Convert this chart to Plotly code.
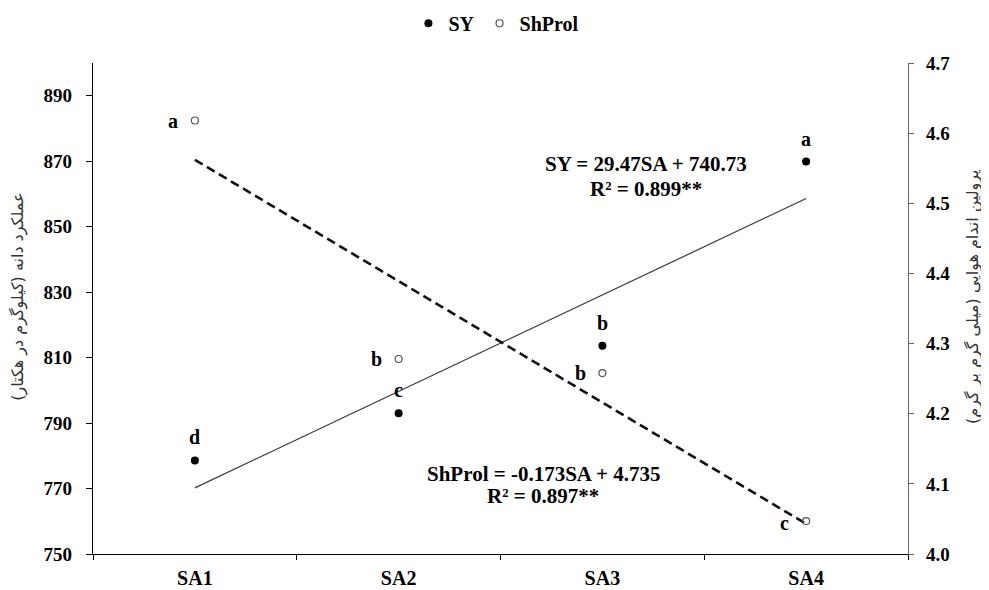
import plotly.graph_objects as go

categories = ["SA1", "SA2", "SA3", "SA4"]
sa_index = [1, 2, 3, 4]
sy_values = [778.6, 793.0, 813.6, 869.9]
shprol_values = [4.618, 4.278, 4.258, 4.047]
sy_letters = ["d", "c", "b", "a"]
shprol_letters = ["a", "b", "b", "c"]
sy_fit = {"slope": 29.47, "intercept": 740.73, "r2": "0.899**"}
sh_fit = {"slope": -0.173, "intercept": 4.735, "r2": "0.897**"}
y1_ticks = [750, 770, 790, 810, 830, 850, 870, 890]
y2_ticks = [4.0, 4.1, 4.2, 4.3, 4.4, 4.5, 4.6, 4.7]

SERIF = "Liberation Serif"
fig = go.Figure()

sy_trend = [sy_fit["slope"] * i + sy_fit["intercept"] for i in sa_index]
sh_trend = [sh_fit["slope"] * i + sh_fit["intercept"] for i in sa_index]

fig.add_trace(go.Scatter(x=categories, y=sy_trend, mode="lines",
                         line=dict(color="#3a3a3a", width=1.2),
                         showlegend=False, hoverinfo="skip"))
fig.add_trace(go.Scatter(x=categories, y=sh_trend, mode="lines", yaxis="y2",
                         line=dict(color="#111111", width=2.6, dash="9px,5px"),
                         showlegend=False, hoverinfo="skip"))
fig.add_trace(go.Scatter(x=categories, y=sy_values, mode="markers", name="<b>SY</b>",
                         marker=dict(symbol="circle", size=8, color="black")))
fig.add_trace(go.Scatter(x=categories, y=shprol_values, mode="markers", name="<b>ShProl</b>",
                         yaxis="y2",
                         marker=dict(symbol="circle-open", size=7, color="#555555",
                                     line=dict(width=1.2, color="#555555"))))

letter_font = dict(family=SERIF, size=20, color="black", weight="bold")
annotations = []
for c, v, t in zip(categories, sy_values, sy_letters):
    annotations.append(dict(x=c, y=v, xref="x", yref="y", text=t,
                            showarrow=False, yshift=23, font=letter_font))
for i, (c, v, t) in enumerate(zip(categories, shprol_values, shprol_letters)):
    ys = -2 if i == 3 else 0
    annotations.append(dict(x=c, y=v, xref="x", yref="y2", text=t,
                            showarrow=False, xshift=-22, yshift=ys, font=letter_font))

eq_font = dict(family=SERIF, size=21, color="black", weight="bold")
title_font = dict(family="DejaVu Sans", size=16, color="#333333")
annotations += [
    dict(x=0.678, y=0.795, xref="paper", yref="paper", xanchor="center", yanchor="middle",
         showarrow=False, font=eq_font,
         text=f"SY = {sy_fit['slope']}SA + {sy_fit['intercept']}"),
    dict(x=0.678, y=0.744, xref="paper", yref="paper", xanchor="center", yanchor="middle",
         showarrow=False, font=eq_font,
         text=f"R² = {sy_fit['r2']}"),
    dict(x=0.553, y=0.163, xref="paper", yref="paper", xanchor="center", yanchor="middle",
         showarrow=False, font=eq_font,
         text=f"ShProl = {sh_fit['slope']}SA + {sh_fit['intercept']}"),
    dict(x=0.552, y=0.118, xref="paper", yref="paper", xanchor="center", yanchor="middle",
         showarrow=False, font=eq_font,
         text=f"R² = {sh_fit['r2']}"),
    dict(x=-0.092, y=0.524, xref="paper", yref="paper", xanchor="center", yanchor="middle",
         showarrow=False, textangle=-90,
         text="عملکرد دانه (کیلوگرم در هکتار)", font=title_font),
    dict(x=1.080, y=0.524, xref="paper", yref="paper", xanchor="center", yanchor="middle",
         showarrow=False, textangle=-90,
         text="پرولین اندام هوایی (میلی گرم بر گرم)", font=title_font),
]

fig.update_layout(
    width=981, height=582,
    margin=dict(l=85, r=81, t=55, b=36, autoexpand=False),
    paper_bgcolor="white", plot_bgcolor="white",
    font=dict(family=SERIF, size=18, color="black"),
    showlegend=True,
    legend=dict(orientation="h", x=0.495, xanchor="center", y=1.081, yanchor="middle",
                yref="paper", font=dict(family=SERIF, size=20, color="black"),
                itemwidth=30, tracegroupgap=0),
    xaxis=dict(type="category", categoryorder="array", categoryarray=categories,
               range=[-0.5, 3.5], showgrid=False, zeroline=False, automargin=False,
               showline=True, linecolor="black", linewidth=1.2,
               ticks="outside", ticklen=5, tickcolor="black", tickson="boundaries",
               tickfont=dict(family=SERIF, size=20, color="black", weight="bold"),
               ticklabelstandoff=6),
    yaxis=dict(range=[750, 900], tickvals=y1_ticks, showgrid=False, zeroline=False,
               automargin=False,
               showline=True, linecolor="black", linewidth=1.2,
               ticks="outside", ticklen=6, tickcolor="black",
               tickfont=dict(family=SERIF, size=19, color="black", weight="bold"),
               ticklabelstandoff=10),
    yaxis2=dict(range=[4.0, 4.7], tickvals=y2_ticks, tickformat=".1f",
                overlaying="y", side="right", showgrid=False, zeroline=False,
                automargin=False,
                showline=True, linecolor="#666666", linewidth=1.2,
                ticks="outside", ticklen=5, tickcolor="#666666",
                tickfont=dict(family=SERIF, size=19, color="black", weight="bold"),
                ticklabelstandoff=8),
    annotations=annotations,
)
fig.write_html("out.html")
